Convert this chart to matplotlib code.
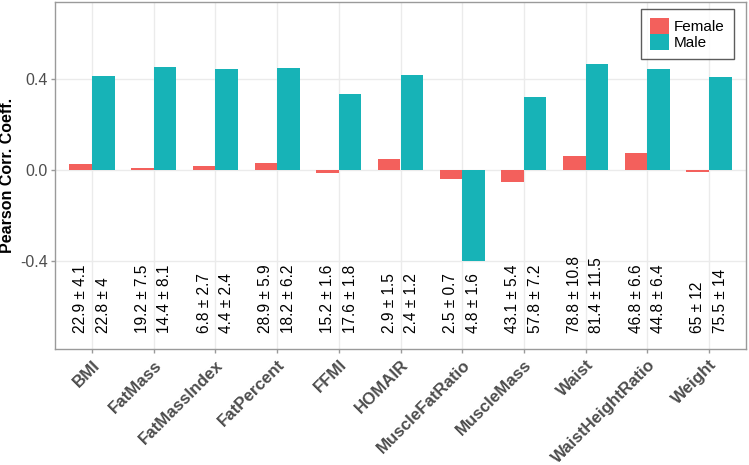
import matplotlib
matplotlib.use("Agg")
import matplotlib.pyplot as plt
import numpy as np
from matplotlib.patches import Patch

categories = ["BMI", "FatMass", "FatMassIndex", "FatPercent", "FFMI", "HOMAIR",
              "MuscleFatRatio", "MuscleMass", "Waist", "WaistHeightRatio", "Weight"]
female_r = [0.025, 0.010, 0.019, 0.031, -0.012, 0.050, -0.041, -0.051, 0.060, 0.073, -0.010]
male_r = [0.413, 0.451, 0.443, 0.448, 0.333, 0.416, -0.400, 0.319, 0.467, 0.445, 0.410]
female_lbl = ["22.9 ± 4.1", "19.2 ± 7.5", "6.8 ± 2.7", "28.9 ± 5.9", "15.2 ± 1.6", "2.9 ± 1.5",
              "2.5 ± 0.7", "43.1 ± 5.4", "78.8 ± 10.8", "46.8 ± 6.6", "65 ± 12"]
male_lbl = ["22.8 ± 4", "14.4 ± 8.1", "4.4 ± 2.4", "18.2 ± 6.2", "17.6 ± 1.8", "2.4 ± 1.2",
            "4.8 ± 1.6", "57.8 ± 7.2", "81.4 ± 11.5", "44.8 ± 6.4", "75.5 ± 14"]
yticks = [-0.4, 0.0, 0.4]
label_y = -0.716

plt.rcParams['font.family'] = ['Liberation Sans', 'DejaVu Sans']

c_f = '#F3605C'
c_m = '#17B3B7'

fig = plt.figure(figsize=(7.49, 4.65), dpi=100)
W, H = 749, 465
x0, x1, y0, y1 = 55, 746, 2, 349
ax = fig.add_axes([x0 / W, 1 - y1 / H, (x1 - x0) / W, (y1 - y0) / H])

x = np.arange(len(categories))
bw = 0.365
ax.bar(x - bw / 2, female_r, width=bw, color=c_f, zorder=3, label="Female")
ax.bar(x + bw / 2, male_r, width=bw, color=c_m, zorder=3, label="Male")

for i in range(len(categories)):
    ax.text(x[i] - bw / 2, label_y, female_lbl[i], rotation=90, ha='center', va='bottom',
            fontsize=11.2, color='black', zorder=4)
    ax.text(x[i] + bw / 2, label_y, male_lbl[i], rotation=90, ha='center', va='bottom',
            fontsize=11.2, color='black', zorder=4)

ax.set_xlim(-0.6, len(categories) - 0.4)
ax.set_ylim(-0.787, 0.738)
ax.set_yticks(yticks)
ax.set_yticklabels([f"{v:.1f}" for v in yticks])
ax.set_xticks(x)
ax.set_xticklabels(categories, rotation=45, ha='right', rotation_mode='anchor',
                   fontweight='bold', fontsize=12.2, color='#4D4D4D')
for lbl in ax.get_yticklabels():
    lbl.set_fontsize(11.5)
    lbl.set_color('#4D4D4D')

ax.grid(True, color='#EBEBEB', linewidth=1.0, zorder=0)
ax.set_axisbelow(True)
for s in ax.spines.values():
    s.set_color('#9A9A9A')
    s.set_linewidth(1.0)
ax.tick_params(axis='both', direction='out', length=3, width=1, color='#9A9A9A', pad=2)
ax.tick_params(axis='x', pad=3)

ax.set_ylabel("Pearson Corr. Coeff.", fontweight='bold', fontsize=11.5, color='black', labelpad=4)

handles = [Patch(facecolor=c_f, edgecolor='none'), Patch(facecolor=c_m, edgecolor='none')]
leg = ax.legend(handles, ["Female", "Male"], loc='upper right',
                bbox_to_anchor=((734 - x0) / (x1 - x0), (y1 - 9) / (y1 - y0)),
                borderaxespad=0, fontsize=11, frameon=True, fancybox=False,
                handlelength=1.2, handleheight=1.2, labelspacing=0.0, handletextpad=0.35,
                borderpad=0.6)
leg.get_frame().set_edgecolor('#333333')
leg.get_frame().set_linewidth(1.0)

fig.savefig("out.png", dpi=100)
